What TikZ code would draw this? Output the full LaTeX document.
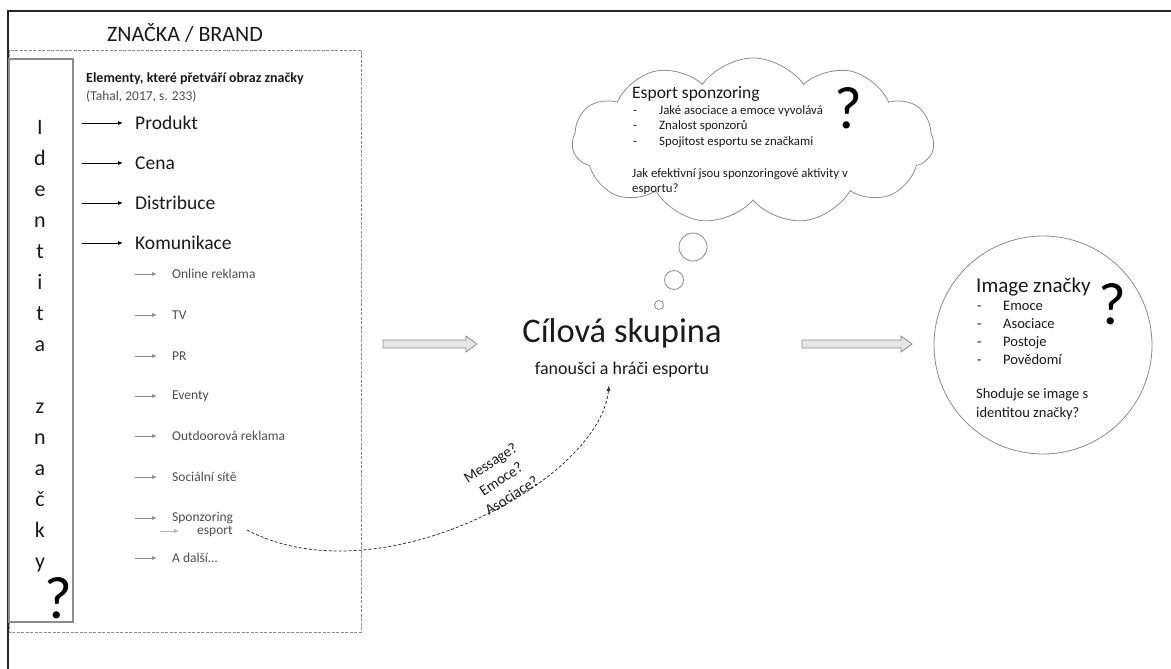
\documentclass[tikz,border=0pt]{standalone}
\usepackage{fontspec}
\setmainfont{Carlito}
\usetikzlibrary{shapes.symbols,arrows.meta}
\definecolor{txt}{HTML}{1A1A1A}
\definecolor{subtxt}{HTML}{4D4D4D}
\definecolor{ln}{HTML}{8C8C8C}
\definecolor{arrfill}{HTML}{E6E6E6}
\newcommand{\fs}[1]{\fontsize{#1}{1.2\dimexpr#1pt\relax}\selectfont}
\tikzset{
  lbl/.style={inner sep=0pt, text=txt},
  mainarr/.style={-{Latex[length=5pt,width=4pt]}, line width=0.8pt, black},
  subarr/.style={-{Latex[length=5pt,width=4pt]}, line width=0.8pt, ln},
  hollow/.style={draw=ln, fill=arrfill, line width=0.8pt},
  bubble/.style={draw=ln, line width=0.8pt, fill=white},
  letter/.style={inner sep=0pt, anchor=base, font=\fs{22}, text=txt},
  qmark/.style={inner sep=0pt, font=\fs{60}, text=black},
}
\begin{document}
\begin{tikzpicture}[x=1pt,y=-1pt]
\useasboundingbox (0,0) rectangle (1171,669);
% frame
\draw[line width=1.6pt, black!85] (8,669) -- (8,11) -- (1171,11);
% brand dashed box
\draw[ln, line width=0.8pt, dash pattern=on 3pt off 1.5pt] (9,50) rectangle (361,632);
\node[lbl, anchor=base, font=\fs{22}] (brand) at (185,42) {ZNAČKA / BRAND};
% identity box
\draw[ln, line width=1.1pt] (9,59) rectangle (73,622);
\foreach \l [count=\k from 0] in {I,d,e,n,t,i,t,a,{},z,n,a,č,k,y}{
  \node[letter] (id\k) at (40,{134+31*\k}) {\l};
}
\node[qmark] (idq) at (58,598) {?};
% heading
\node[lbl, anchor=base west, font=\bfseries\fs{14}] (head) at (86,82) {Elementy, které přetváří obraz značky};
\node[lbl, anchor=base west, font=\fs{13.5}, text=subtxt] (src) at (86,101) {(Tahal, 2017, s. 233)};
% main items
\foreach \t/\y [count=\k] in {Produkt/123,Cena/163,Distribuce/203,Komunikace/243}{
  \coordinate (ma\k) at (82,\y);
  \node[lbl, anchor=west, font=\fs{19.5}] (m\k) at (135,\y) {\t};
  \draw[mainarr] (ma\k) -- ([xshift=-12pt]m\k.west);
}
% sub items
\foreach \t/\y [count=\k] in {Online reklama/274,TV/315,PR/356,Eventy/396,Outdoorová reklama/436,Sociální sítě/477,Sponzoring/518,{A další\ldots}/558}{
  \coordinate (sa\k) at (135,\y);
  \node[lbl, anchor=west, font=\fs{13.5}, text=subtxt] (s\k) at (172,\y) {\t};
  \draw[subarr] (sa\k) -- ([xshift=-15pt]s\k.west);
}
\coordinate (ea) at (160,531);
\node[lbl, anchor=west, font=\fs{13.5}, text=subtxt] (esp) at (197,531) {esport};
\draw[-{Latex[length=5pt,width=4pt]}, line width=0.8pt, black!30] (ea) -- ([xshift=-18pt]esp.west);
% hollow arrows
\draw[hollow] (383,340) -- (466,340) -- (466,336) -- (477,344) -- (466,352) -- (466,348) -- (383,348) -- cycle;
\draw[hollow] (802,340) -- (901,340) -- (901,336) -- (912,344) -- (901,352) -- (901,348) -- (802,348) -- cycle;
% target group
\node[lbl, font=\fs{34.5}] (cil) at (622,333) {Cílová skupina};
\node[lbl, font=\fs{18}] (fan) at (622,370) {fanoušci a hráči esportu};
% dashed curve
\coordinate (cs) at (247,530);
\coordinate (ct) at (609,385);
\draw[line width=0.8pt, black!80, dash pattern=on 3pt off 2pt, -{Latex[length=6pt,width=4pt]}] (cs) .. controls (380,600) and (600,480) .. (ct);
\node[lbl, rotate=33, align=center, font=\fontsize{15}{19.5}\selectfont] (msg) at (501,479) {Message?\\Emoce?\\Asociace?};
% cloud
\node[cloud, cloud puffs=11, cloud puff arc=110, aspect=2.2, draw=ln, line width=0.8pt, minimum width=362pt, minimum height=166pt, inner sep=0pt] (cloud) at (753,141) {};
\node[lbl, anchor=base west, font=\fs{17.5}] (cl1) at (632,99) {Esport sponzoring};
\foreach \t/\y [count=\k] in {Jaké asociace a emoce vyvolává/114,Znalost sponzorů/129,Spojitost esportu se značkami/145}{
  \node[lbl, anchor=base west, font=\fs{12.8}] (cd\k) at (633,\y) {-};
  \node[lbl, anchor=base west, font=\fs{12.8}] (ci\k) at (659,\y) {\t};
}
\node[lbl, anchor=base west, font=\fs{12.8}] (cq1) at (632,177) {Jak efektivní jsou sponzoringové aktivity v};
\node[lbl, anchor=base west, font=\fs{12.8}] (cq2) at (632,192) {esportu?};
\node[qmark] (clq) at (848,108) {?};
% thought bubbles
\node[bubble, circle, minimum size=28pt, inner sep=0pt] (b1) at (693,247) {};
\node[bubble, circle, minimum size=19pt, inner sep=0pt] (b2) at (674,280) {};
\node[bubble, circle, minimum size=9pt, inner sep=0pt] (b3) at (659,305) {};
% image circle
\node[bubble, circle, minimum size=218pt, inner sep=0pt] (img) at (1043,345) {};
\node[lbl, anchor=base west, font=\fs{21}] (im1) at (976,292) {Image značky};
\foreach \t/\y [count=\k] in {Emoce/310,Asociace/328,Postoje/346,Povědomí/364}{
  \node[lbl, anchor=base west, font=\fs{14.5}] (idh\k) at (977,\y) {-};
  \node[lbl, anchor=base west, font=\fs{14.5}] (ii\k) at (1003,\y) {\t};
}
\node[lbl, anchor=base west, font=\fs{14.5}] (iq1) at (976,398) {Shoduje se image s};
\node[lbl, anchor=base west, font=\fs{14.5}] (iq2) at (976,417) {identitou značky?};
\node[qmark] (imq) at (1112,304) {?};
\end{tikzpicture}
\end{document}
